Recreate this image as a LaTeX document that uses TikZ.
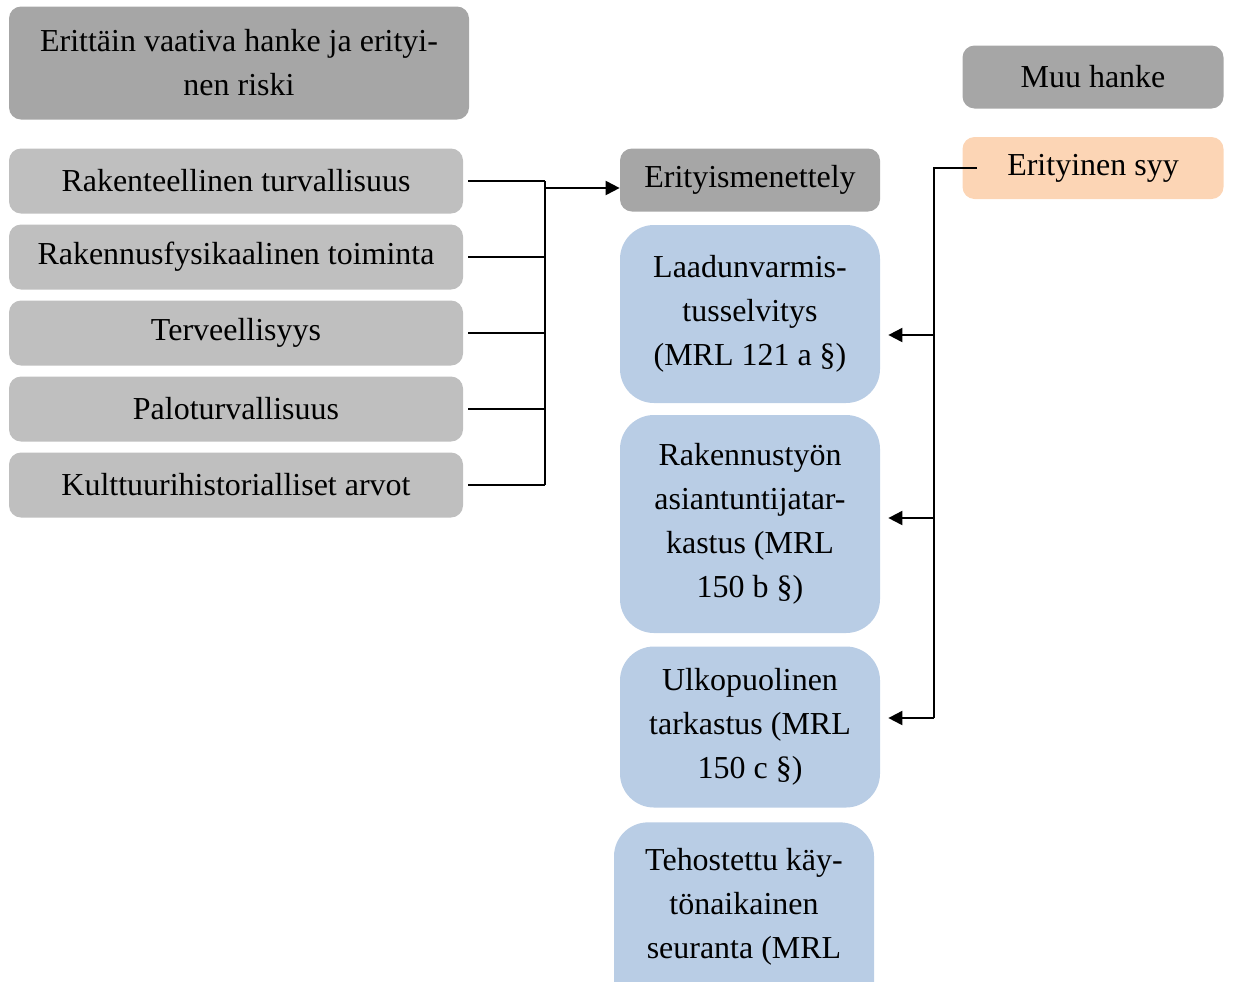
\documentclass[tikz,border=0pt]{standalone}
\usepackage{fontspec}
\setmainfont{Liberation Serif}
\usetikzlibrary{arrows.meta}
\definecolor{darkgrey}{HTML}{A6A6A6}
\definecolor{lightgrey}{HTML}{BFBFBF}
\definecolor{paleblue}{HTML}{B9CDE5}
\definecolor{peach}{HTML}{FCD5B5}
\newlength\px
\setlength\px{0.02cm}
\tikzset{
  box/.style={rounded corners=12\px, align=center, inner sep=0pt,
    font=\fontsize{18.2}{25}\selectfont},
  headbox/.style={box, fill=darkgrey},
  topicbox/.style={box, fill=lightgrey, minimum width=454\px, minimum height=65\px},
  stepbox/.style={box, fill=paleblue, rounded corners=34\px, minimum width=260\px},
  thinline/.style={line width=1pt},
  busline/.style={line width=1.6pt},
  arr/.style={line width=1.1pt, -{Triangle[length=8pt,width=8pt]}}
}
\begin{document}
\begin{tikzpicture}[x=1\px, y=-1\px]
\useasboundingbox (0,0) rectangle (1233,981);
\clip (0,0) rectangle (1233,981);

% left column
\node[headbox, minimum width=460\px, minimum height=113\px] (risk) at (239,63)
  {Erittäin vaativa hanke ja erityi-\\nen riski};
\node[topicbox] (rak) at (236,181) {Rakenteellinen turvallisuus};
\node[topicbox] (fys) at (236,257) {Rakennusfysikaalinen toiminta};
\node[topicbox] (terv) at (236,333) {Terveellisyys};
\node[topicbox] (palo) at (236,409) {Paloturvallisuus};
\node[topicbox] (kult) at (236,485) {Kulttuurihistorialliset arvot};

% right column
\node[headbox, minimum width=261\px, minimum height=63\px] (muu) at (1093,77) {Muu hanke};
\node[box, fill=peach, minimum width=261\px, minimum height=62\px] (syy) at (1093,168) {Erityinen syy};

% middle column
\node[headbox, minimum width=260\px, minimum height=63\px] (erit) at (750,180) {Erityismenettely};
\node[stepbox, minimum height=178\px] (laatu) at (750,314)
  {Laadunvarmis-\\tusselvitys\\(MRL 121 a §)};
\node[stepbox, minimum height=218\px] (tyo) at (750,524)
  {Rakennustyön\\asiantuntijatar-\\kastus (MRL\\150 b §)};
\node[stepbox, minimum height=161\px] (ulko) at (750,727)
  {Ulkopuolinen\\tarkastus (MRL\\150 c §)};
\node[stepbox, minimum height=222\px, anchor=north, text depth=60\px] (teho) at (744,822)
  {Tehostettu käy-\\tönaikainen\\seuranta (MRL};

% connectors left
\coordinate (bus) at (545,178);
\foreach \n in {rak,fys,terv,palo,kult}
  \draw[thinline, shorten <=5\px] (\n.east) -- (\n.east -| bus);
\draw[busline] (rak.east -| bus) -- (kult.east -| bus);
\coordinate (join) at (545,188);
\draw[arr] (join) -- (join -| erit.west);

% connectors right
\coordinate (rbus) at (934,168);
\coordinate (rbot) at (934,718);
\draw[thinline] ([xshift=15\px]syy.west) -- (rbus) -- (rbot);
\foreach \y/\n in {335/laatu,518/tyo,718/ulko}
  \draw[arr, shorten >=8\px] (934,\y) -- (\n.east |- 0,\y);
\end{tikzpicture}
\end{document}
